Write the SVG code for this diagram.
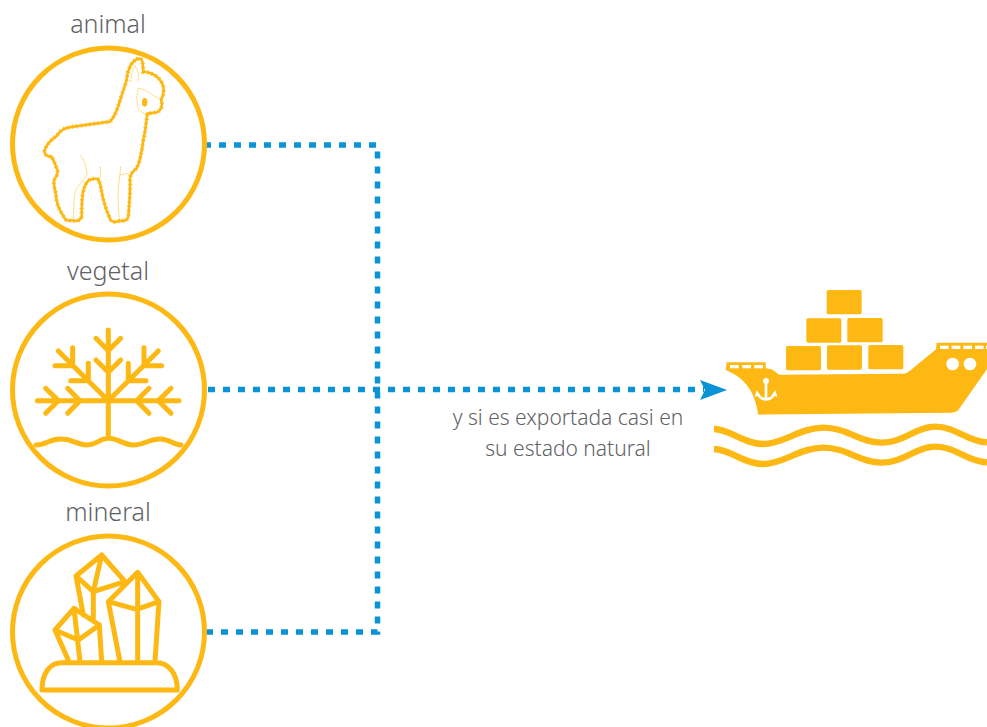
<svg xmlns="http://www.w3.org/2000/svg" width="987" height="727" viewBox="0 0 987 727">
<defs>
<path id="alp" d="M410,178C420,172 427,178 428,190L430,215C465,218 490,240 491,270C491,285 486,295 483,300C490,315 483,332 470,337L442,341C438,370 437,390 430,420C425,460 418,490 410,505C398,515 392,520 390,535C392,570 388,610 385,650C382,662 370,664 358,662C350,668 335,668 330,656C318,630 310,600 305,575C302,555 298,545 295,538C285,535 270,536 262,545C248,565 245,590 245,650C240,665 225,665 215,660C205,665 195,660 192,652C178,630 168,610 168,585C165,565 160,555 162,540C170,530 175,520 172,510C165,490 160,480 155,470C145,470 135,465 133,455C135,440 150,420 170,408C180,390 195,382 220,380L330,365C345,350 355,320 362,295C370,270 378,250 380,238C382,210 395,185 410,178Z"/>
</defs>
<style>
.t{font-family:"Noto Sans","Liberation Sans",sans-serif;font-weight:300;fill:#616265;text-anchor:middle}
.l{font-size:25px}.c{font-size:21px}
.ring{fill:#fff;stroke:#fdb813;stroke-width:5}
.ic{fill:none;stroke:#fdb813;stroke-width:15;stroke-linecap:round;stroke-linejoin:round}
.fine{fill:none;stroke:#fdb813;stroke-width:2;stroke-dasharray:5 2}
.box{fill:#fdb813}
.hole{fill:#fff}
.dot{fill:none;stroke:#0a94d6;stroke-width:5.500;stroke-dasharray:7 8}
</style>
<g id="connectors">
<path class="dot" d="M204,145H377.500V632H204"/>
<path class="dot" d="M208,389.500H704"/>
<path d="M727,390L700,380L705,390L700,400Z" fill="#0a94d6"/>
</g>
<g id="animal">
<text class="t l" x="108" y="33">animal</text>
<circle class="ring" cx="108.500" cy="144" r="96"/>
<g transform="scale(.3333)">
<use href="#alp" fill="#fff" stroke="#fdb813" stroke-width="8" stroke-linejoin="round"/>
<use href="#alp" fill="none" stroke="#fdb813" stroke-width="13" stroke-dasharray="3 10"/>
<path class="fine" d="M392,245C393,225 398,205 405,198C412,205 418,225 414,245M415,268C408,285 410,320 418,330C428,340 435,342 442,341M415,265C435,265 455,285 478,296M240,465C255,480 258,505 262,520C258,540 230,555 225,580C220,600 222,630 220,655M300,500C305,530 298,538 295,538M362,500C360,530 352,570 355,600C354,625 358,650 358,660M360,525L388,520"/>
<ellipse cx="434" cy="307" rx="8" ry="13" fill="#fdb813"/>
</g>
</g>
<g id="vegetal">
<text class="t l" x="108" y="280">vegetal</text>
<circle class="ring" cx="108.500" cy="390" r="96"/>
<g transform="translate(0,250) scale(.3333)">
<path class="ic" d="M325,240V565M112,452H537M288,265L325,302L362,265M288,330L325,367L362,330M175,303L325,452M475,303L325,452M218,293V347H165M265,340V392H212M432,293V347H485M385,340V392H438M137,415L175,452L137,490M203,415L240,452L203,490M513,415L475,452L513,490M447,415L410,452L447,490M108,585C140,585 150,565 185,567C220,567 230,585 260,585C290,585 300,565 325,565C355,565 370,585 400,585C430,585 450,567 480,567C510,567 520,585 543,585"/>
</g>
</g>
<g id="mineral">
<text class="t l" x="108" y="521">mineral</text>
<circle class="ring" cx="108.500" cy="632" r="96"/>
<g transform="translate(0,490) scale(.3333)">
<path class="ic" d="M126,600C126,550 150,518 185,518H470C505,518 532,550 532,600ZM250,375L228,258L305,195L375,275L280,305L228,258M305,195L280,305V385M360,515L325,335L413,247L477,335L465,515M325,335L410,358L477,335M413,247V515M207,515L165,420L222,355L298,405L305,515M165,420L235,450L298,405M222,355L240,515"/>
</g>
</g>
<g id="caption">
<text class="t c" x="568" y="425">y si es exportada casi en</text>
<text class="t c" x="568" y="456">su estado natural</text>
</g>
<g id="ship" transform="translate(700,280) scale(.3333)">
<rect class="box" x="380" y="30" width="105" height="73" rx="5"/>
<rect class="box" x="319" y="115" width="105" height="73" rx="5"/>
<rect class="box" x="442" y="114" width="106" height="73" rx="5"/>
<rect class="box" x="258" y="198" width="105" height="73" rx="5"/>
<rect class="box" x="381" y="196" width="105" height="73" rx="5"/>
<rect class="box" x="505" y="195" width="105" height="73" rx="5"/>
<path class="box" d="M77,270L80,247H197V265L215,268L238,284L610,281Q622,280 630,272L708,208L710,188H861V268L775,390Q768,398 755,398L175,404C165,340 140,295 77,270Z"/>
<rect class="hole" x="90" y="255" width="26" height="10"/>
<rect class="hole" x="127" y="255" width="26" height="10"/>
<rect class="hole" x="163" y="255" width="26" height="10"/>
<rect class="hole" x="720" y="197" width="26" height="10"/>
<rect class="hole" x="755" y="197" width="26" height="10"/>
<rect class="hole" x="790" y="197" width="26" height="10"/>
<rect class="hole" x="825" y="197" width="26" height="10"/>
<rect class="hole" x="858" y="197" width="5" height="10"/>
<circle class="hole" cx="758" cy="252" r="19"/>
<circle class="hole" cx="810" cy="252" r="19"/>
<circle class="hole" cx="198" cy="303" r="9"/>
<path d="M198,305V356M172,340C178,354 190,358 198,358C206,358 218,354 224,340" fill="none" stroke="#fff" stroke-width="8"/>
<path class="hole" d="M164,350L170,330L180,345ZM232,350L226,330L216,345Z"/>
<path d="M42,447C90,447 130,492 190,492C250,492 300,443 370,443C440,443 480,488 545,488C610,488 650,440 705,440C770,440 800,485 861,487M42,507C90,507 130,552 190,552C250,552 300,503 370,503C440,503 480,548 545,548C610,548 650,500 705,500C770,500 800,545 861,547" fill="none" stroke="#fdb813" stroke-width="19"/>
</g>
</svg>
